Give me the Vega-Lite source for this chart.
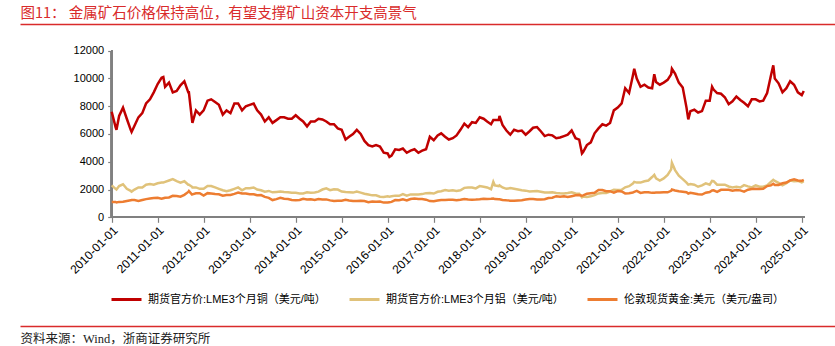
{
  "$schema": "https://vega.github.io/schema/vega-lite/v6.json",
  "autosize": {"type": "none"},
  "width": 815,
  "height": 302,
  "padding": {"left": 20, "top": 24, "right": 0, "bottom": 20},
  "background": "white",
  "config": {"view": {"stroke": null}, "axis": {"grid": false}},
  "data": {"values": [
    {"date":"2010-01-01","copper":7600,"aluminum":2300,"gold":1100},
    {"date":"2010-02-01","copper":6500,"aluminum":2050,"gold":1100},
    {"date":"2010-02-08","copper":6300,"aluminum":2000,"gold":1065},
    {"date":"2010-03-01","copper":7300,"aluminum":2250,"gold":1110},
    {"date":"2010-04-01","copper":7900,"aluminum":2380,"gold":1120},
    {"date":"2010-05-01","copper":7100,"aluminum":2050,"gold":1180},
    {"date":"2010-06-01","copper":6300,"aluminum":1900,"gold":1220},
    {"date":"2010-06-08","copper":6150,"aluminum":1850,"gold":1245},
    {"date":"2010-07-01","copper":6600,"aluminum":2000,"gold":1240},
    {"date":"2010-08-01","copper":7200,"aluminum":2150,"gold":1180},
    {"date":"2010-09-01","copper":7500,"aluminum":2150,"gold":1250},
    {"date":"2010-10-01","copper":8200,"aluminum":2350,"gold":1310},
    {"date":"2010-11-01","copper":8500,"aluminum":2400,"gold":1350},
    {"date":"2010-12-01","copper":9000,"aluminum":2350,"gold":1390},
    {"date":"2011-01-01","copper":9600,"aluminum":2450,"gold":1410},
    {"date":"2011-02-01","copper":10050,"aluminum":2500,"gold":1340},
    {"date":"2011-02-15","copper":10100,"aluminum":2500,"gold":1375},
    {"date":"2011-03-01","copper":9400,"aluminum":2550,"gold":1410},
    {"date":"2011-04-01","copper":9700,"aluminum":2650,"gold":1430},
    {"date":"2011-05-01","copper":9000,"aluminum":2750,"gold":1550},
    {"date":"2011-06-01","copper":9100,"aluminum":2600,"gold":1540},
    {"date":"2011-07-01","copper":9500,"aluminum":2500,"gold":1490},
    {"date":"2011-08-01","copper":9800,"aluminum":2600,"gold":1620},
    {"date":"2011-09-01","copper":9000,"aluminum":2350,"gold":1830},
    {"date":"2011-09-06","copper":9000,"aluminum":2350,"gold":1890},
    {"date":"2011-10-01","copper":7000,"aluminum":2200,"gold":1640},
    {"date":"2011-10-04","copper":6800,"aluminum":2150,"gold":1650},
    {"date":"2011-11-01","copper":7700,"aluminum":2150,"gold":1730},
    {"date":"2011-12-01","copper":7400,"aluminum":2050,"gold":1740},
    {"date":"2012-01-01","copper":7700,"aluminum":2050,"gold":1570},
    {"date":"2012-02-01","copper":8400,"aluminum":2250,"gold":1740},
    {"date":"2012-03-01","copper":8500,"aluminum":2250,"gold":1710},
    {"date":"2012-04-01","copper":8300,"aluminum":2150,"gold":1670},
    {"date":"2012-05-01","copper":8100,"aluminum":2050,"gold":1660},
    {"date":"2012-06-01","copper":7400,"aluminum":1950,"gold":1560},
    {"date":"2012-07-01","copper":7700,"aluminum":1880,"gold":1600},
    {"date":"2012-08-01","copper":7500,"aluminum":1950,"gold":1610},
    {"date":"2012-09-01","copper":8200,"aluminum":2050,"gold":1690},
    {"date":"2012-10-01","copper":8200,"aluminum":2150,"gold":1780},
    {"date":"2012-11-01","copper":7700,"aluminum":1950,"gold":1710},
    {"date":"2012-12-01","copper":8000,"aluminum":2100,"gold":1720},
    {"date":"2013-01-01","copper":8100,"aluminum":2100,"gold":1660},
    {"date":"2013-02-01","copper":8200,"aluminum":2150,"gold":1660},
    {"date":"2013-03-01","copper":7700,"aluminum":2000,"gold":1590},
    {"date":"2013-04-01","copper":7400,"aluminum":1950,"gold":1600},
    {"date":"2013-05-01","copper":6900,"aluminum":1850,"gold":1470},
    {"date":"2013-06-01","copper":7200,"aluminum":1900,"gold":1400},
    {"date":"2013-07-01","copper":6800,"aluminum":1800,"gold":1240},
    {"date":"2013-08-01","copper":7000,"aluminum":1830,"gold":1310},
    {"date":"2013-09-01","copper":7200,"aluminum":1850,"gold":1400},
    {"date":"2013-10-01","copper":7200,"aluminum":1820,"gold":1330},
    {"date":"2013-11-01","copper":7100,"aluminum":1800,"gold":1320},
    {"date":"2013-12-01","copper":7100,"aluminum":1760,"gold":1250},
    {"date":"2014-01-01","copper":7350,"aluminum":1760,"gold":1220},
    {"date":"2014-02-01","copper":7100,"aluminum":1720,"gold":1250},
    {"date":"2014-03-01","copper":6900,"aluminum":1720,"gold":1330},
    {"date":"2014-04-01","copper":6550,"aluminum":1800,"gold":1290},
    {"date":"2014-05-01","copper":6900,"aluminum":1760,"gold":1300},
    {"date":"2014-06-01","copper":6900,"aluminum":1780,"gold":1250},
    {"date":"2014-07-01","copper":7100,"aluminum":1850,"gold":1320},
    {"date":"2014-08-01","copper":7050,"aluminum":2000,"gold":1290},
    {"date":"2014-09-01","copper":6900,"aluminum":2080,"gold":1290},
    {"date":"2014-10-01","copper":6700,"aluminum":1950,"gold":1220},
    {"date":"2014-11-01","copper":6700,"aluminum":2020,"gold":1170},
    {"date":"2014-12-01","copper":6400,"aluminum":2000,"gold":1200},
    {"date":"2015-01-01","copper":6300,"aluminum":1850,"gold":1190},
    {"date":"2015-02-01","copper":5600,"aluminum":1820,"gold":1260},
    {"date":"2015-03-01","copper":5800,"aluminum":1800,"gold":1210},
    {"date":"2015-04-01","copper":6000,"aluminum":1780,"gold":1180},
    {"date":"2015-05-01","copper":6300,"aluminum":1860,"gold":1180},
    {"date":"2015-06-01","copper":6000,"aluminum":1780,"gold":1190},
    {"date":"2015-07-01","copper":5500,"aluminum":1700,"gold":1170},
    {"date":"2015-08-01","copper":5200,"aluminum":1640,"gold":1090},
    {"date":"2015-09-01","copper":5100,"aluminum":1580,"gold":1130},
    {"date":"2015-10-01","copper":5200,"aluminum":1590,"gold":1120},
    {"date":"2015-11-01","copper":5100,"aluminum":1480,"gold":1140},
    {"date":"2015-12-01","copper":4650,"aluminum":1470,"gold":1060},
    {"date":"2016-01-01","copper":4600,"aluminum":1510,"gold":1060},
    {"date":"2016-01-15","copper":4350,"aluminum":1480,"gold":1090},
    {"date":"2016-02-01","copper":4450,"aluminum":1510,"gold":1110},
    {"date":"2016-03-01","copper":4900,"aluminum":1560,"gold":1240},
    {"date":"2016-04-01","copper":4850,"aluminum":1550,"gold":1230},
    {"date":"2016-05-01","copper":4950,"aluminum":1670,"gold":1290},
    {"date":"2016-06-01","copper":4650,"aluminum":1560,"gold":1210},
    {"date":"2016-07-01","copper":4800,"aluminum":1650,"gold":1320},
    {"date":"2016-08-01","copper":4900,"aluminum":1640,"gold":1350},
    {"date":"2016-09-01","copper":4650,"aluminum":1650,"gold":1310},
    {"date":"2016-10-01","copper":4800,"aluminum":1670,"gold":1320},
    {"date":"2016-11-01","copper":4900,"aluminum":1740,"gold":1270},
    {"date":"2016-12-01","copper":5800,"aluminum":1750,"gold":1170},
    {"date":"2017-01-01","copper":5550,"aluminum":1710,"gold":1150},
    {"date":"2017-02-01","copper":5900,"aluminum":1840,"gold":1210},
    {"date":"2017-03-01","copper":6050,"aluminum":1880,"gold":1250},
    {"date":"2017-04-01","copper":5800,"aluminum":1960,"gold":1250},
    {"date":"2017-05-01","copper":5600,"aluminum":1910,"gold":1260},
    {"date":"2017-06-01","copper":5700,"aluminum":1950,"gold":1270},
    {"date":"2017-07-01","copper":5900,"aluminum":1900,"gold":1230},
    {"date":"2017-08-01","copper":6300,"aluminum":1950,"gold":1270},
    {"date":"2017-09-01","copper":6750,"aluminum":2120,"gold":1320},
    {"date":"2017-10-01","copper":6500,"aluminum":2150,"gold":1280},
    {"date":"2017-11-01","copper":6850,"aluminum":2150,"gold":1270},
    {"date":"2017-12-01","copper":6800,"aluminum":2080,"gold":1280},
    {"date":"2018-01-01","copper":7200,"aluminum":2250,"gold":1300},
    {"date":"2018-02-01","copper":7100,"aluminum":2200,"gold":1340},
    {"date":"2018-03-01","copper":6900,"aluminum":2150,"gold":1320},
    {"date":"2018-04-01","copper":6700,"aluminum":2020,"gold":1330},
    {"date":"2018-04-19","copper":7000,"aluminum":2550,"gold":1345},
    {"date":"2018-05-01","copper":7000,"aluminum":2300,"gold":1310},
    {"date":"2018-06-01","copper":7000,"aluminum":2250,"gold":1300},
    {"date":"2018-06-07","copper":7300,"aluminum":2300,"gold":1300},
    {"date":"2018-07-01","copper":6650,"aluminum":2150,"gold":1250},
    {"date":"2018-08-01","copper":6250,"aluminum":2050,"gold":1220},
    {"date":"2018-09-01","copper":5950,"aluminum":2100,"gold":1200},
    {"date":"2018-10-01","copper":6300,"aluminum":2050,"gold":1190},
    {"date":"2018-11-01","copper":6200,"aluminum":2000,"gold":1210},
    {"date":"2018-12-01","copper":6250,"aluminum":1950,"gold":1230},
    {"date":"2019-01-01","copper":5950,"aluminum":1920,"gold":1280},
    {"date":"2019-02-01","copper":6200,"aluminum":1860,"gold":1320},
    {"date":"2019-03-01","copper":6450,"aluminum":1880,"gold":1310},
    {"date":"2019-04-01","copper":6500,"aluminum":1900,"gold":1290},
    {"date":"2019-05-01","copper":6200,"aluminum":1840,"gold":1280},
    {"date":"2019-06-01","copper":5850,"aluminum":1780,"gold":1300},
    {"date":"2019-07-01","copper":5950,"aluminum":1780,"gold":1390},
    {"date":"2019-08-01","copper":5900,"aluminum":1800,"gold":1410},
    {"date":"2019-09-01","copper":5700,"aluminum":1750,"gold":1520},
    {"date":"2019-10-01","copper":5750,"aluminum":1730,"gold":1480},
    {"date":"2019-11-01","copper":5850,"aluminum":1720,"gold":1510},
    {"date":"2019-12-01","copper":5950,"aluminum":1750,"gold":1460},
    {"date":"2020-01-01","copper":6250,"aluminum":1800,"gold":1520},
    {"date":"2020-02-01","copper":5700,"aluminum":1720,"gold":1580},
    {"date":"2020-03-01","copper":5600,"aluminum":1700,"gold":1610},
    {"date":"2020-03-23","copper":4600,"aluminum":1440,"gold":1560},
    {"date":"2020-04-01","copper":4700,"aluminum":1500,"gold":1580},
    {"date":"2020-05-01","copper":5200,"aluminum":1470,"gold":1690},
    {"date":"2020-06-01","copper":5400,"aluminum":1510,"gold":1730},
    {"date":"2020-07-01","copper":6050,"aluminum":1600,"gold":1770},
    {"date":"2020-08-01","copper":6400,"aluminum":1720,"gold":1970},
    {"date":"2020-09-01","copper":6700,"aluminum":1750,"gold":1960},
    {"date":"2020-10-01","copper":6600,"aluminum":1750,"gold":1880},
    {"date":"2020-11-01","copper":6800,"aluminum":1860,"gold":1880},
    {"date":"2020-12-01","copper":7700,"aluminum":1980,"gold":1780},
    {"date":"2021-01-01","copper":7900,"aluminum":1970,"gold":1890},
    {"date":"2021-02-01","copper":8200,"aluminum":1980,"gold":1860},
    {"date":"2021-03-01","copper":9300,"aluminum":2160,"gold":1720},
    {"date":"2021-04-01","copper":8950,"aluminum":2240,"gold":1730},
    {"date":"2021-05-01","copper":10200,"aluminum":2430,"gold":1790},
    {"date":"2021-05-12","copper":10700,"aluminum":2550,"gold":1830},
    {"date":"2021-06-01","copper":10000,"aluminum":2500,"gold":1900},
    {"date":"2021-07-01","copper":9400,"aluminum":2500,"gold":1760},
    {"date":"2021-08-01","copper":9550,"aluminum":2600,"gold":1810},
    {"date":"2021-09-01","copper":9350,"aluminum":2650,"gold":1810},
    {"date":"2021-10-01","copper":9300,"aluminum":2900,"gold":1760},
    {"date":"2021-10-18","copper":10300,"aluminum":3050,"gold":1770},
    {"date":"2021-11-01","copper":9750,"aluminum":2800,"gold":1780},
    {"date":"2021-12-01","copper":9550,"aluminum":2650,"gold":1780},
    {"date":"2022-01-01","copper":9700,"aluminum":2800,"gold":1810},
    {"date":"2022-02-01","copper":9900,"aluminum":3050,"gold":1800},
    {"date":"2022-03-01","copper":10300,"aluminum":3450,"gold":1910},
    {"date":"2022-03-07","copper":10700,"aluminum":3930,"gold":2000},
    {"date":"2022-04-01","copper":10350,"aluminum":3400,"gold":1930},
    {"date":"2022-05-01","copper":9700,"aluminum":3000,"gold":1870},
    {"date":"2022-06-01","copper":9350,"aluminum":2750,"gold":1840},
    {"date":"2022-07-01","copper":7900,"aluminum":2500,"gold":1800},
    {"date":"2022-07-15","copper":7050,"aluminum":2350,"gold":1710},
    {"date":"2022-08-01","copper":7650,"aluminum":2400,"gold":1760},
    {"date":"2022-09-01","copper":7750,"aluminum":2350,"gold":1710},
    {"date":"2022-10-01","copper":7550,"aluminum":2200,"gold":1660},
    {"date":"2022-11-01","copper":7650,"aluminum":2300,"gold":1640},
    {"date":"2022-12-01","copper":8400,"aluminum":2450,"gold":1770},
    {"date":"2023-01-01","copper":8400,"aluminum":2350,"gold":1820},
    {"date":"2023-01-20","copper":9400,"aluminum":2620,"gold":1930},
    {"date":"2023-02-01","copper":9200,"aluminum":2600,"gold":1940},
    {"date":"2023-03-01","copper":8950,"aluminum":2350,"gold":1830},
    {"date":"2023-04-01","copper":8900,"aluminum":2350,"gold":1980},
    {"date":"2023-05-01","copper":8650,"aluminum":2350,"gold":1980},
    {"date":"2023-06-01","copper":8150,"aluminum":2220,"gold":1980},
    {"date":"2023-07-01","copper":8350,"aluminum":2150,"gold":1910},
    {"date":"2023-08-01","copper":8700,"aluminum":2200,"gold":1960},
    {"date":"2023-09-01","copper":8450,"aluminum":2150,"gold":1940},
    {"date":"2023-10-01","copper":8250,"aluminum":2320,"gold":1850},
    {"date":"2023-11-01","copper":8000,"aluminum":2230,"gold":1990},
    {"date":"2023-12-01","copper":8500,"aluminum":2150,"gold":2040},
    {"date":"2024-01-01","copper":8500,"aluminum":2300,"gold":2060},
    {"date":"2024-02-01","copper":8350,"aluminum":2200,"gold":2040},
    {"date":"2024-03-01","copper":8400,"aluminum":2200,"gold":2050},
    {"date":"2024-04-01","copper":8950,"aluminum":2300,"gold":2250},
    {"date":"2024-05-01","copper":10200,"aluminum":2550,"gold":2300},
    {"date":"2024-05-20","copper":10950,"aluminum":2700,"gold":2420},
    {"date":"2024-06-01","copper":10000,"aluminum":2620,"gold":2330},
    {"date":"2024-07-01","copper":9650,"aluminum":2480,"gold":2330},
    {"date":"2024-08-01","copper":9000,"aluminum":2300,"gold":2450},
    {"date":"2024-09-01","copper":9300,"aluminum":2450,"gold":2500},
    {"date":"2024-10-01","copper":9800,"aluminum":2650,"gold":2660},
    {"date":"2024-11-01","copper":9550,"aluminum":2600,"gold":2740},
    {"date":"2024-12-01","copper":9000,"aluminum":2620,"gold":2650},
    {"date":"2025-01-01","copper":8800,"aluminum":2520,"gold":2630},
    {"date":"2025-01-17","copper":9100,"aluminum":2600,"gold":2700}
  ]},
  "resolve": {"axis": {"x": "independent", "y": "independent"}},
  "layer": [
    {
      "mark": {"type": "rule", "color": "#808080", "strokeWidth": 1.5},
      "encoding": {
        "x": {"datum": {"year": 2010, "month": 1, "date": 1}, "type": "temporal",
              "scale": {"domain": [{"year": 2008, "month": 1, "date": 4}, {"year": 2025, "month": 9, "date": 22}]},
              "axis": {"orient": "top", "domain": true, "domainColor": "#d92b2b", "domainWidth": 1.5, "ticks": false, "labels": false, "grid": false,
                       "title": "图11： 金属矿石价格保持高位，有望支撑矿山资本开支高景气",
                       "titleColor": "#d92b2b", "titleFont": "Noto Sans CJK SC", "titleFontSize": 14.5, "titleFontWeight": "normal",
                       "titleAnchor": "start", "titleAlign": "left", "titleBaseline": "bottom", "titlePadding": 4}},
        "x2": {"datum": {"year": 2025, "month": 1, "date": 20}},
        "y": {"datum": 0, "type": "quantitative", "scale": {"domain": [-7830, 13923]}, "axis": null}
      }
    },
    {
      "mark": {"type": "rule", "color": "#808080", "strokeWidth": 1.5},
      "encoding": {
        "x": {"datum": {"year": 2010, "month": 1, "date": 1}, "type": "temporal",
              "scale": {"domain": [{"year": 2008, "month": 1, "date": 4}, {"year": 2025, "month": 9, "date": 22}]},
              "axis": {"orient": "bottom", "offset": 0, "domain": true, "domainColor": "#d92b2b", "domainWidth": 1.5, "ticks": false, "labels": false, "grid": false,
                       "title": "资料来源：Wind，浙商证券研究所",
                       "titleColor": "#222222", "titleFont": "Liberation Serif, Noto Sans CJK SC", "titleFontSize": 12.5, "titleFontWeight": "normal",
                       "titleAnchor": "start", "titleAlign": "left", "titleBaseline": "top", "titlePadding": 6}},
        "y": {"datum": 0, "type": "quantitative", "scale": {"domain": [-7830, 13923]}, "axis": null},
        "y2": {"datum": 12000}
      }
    },
    {
      "transform": [{"fold": ["copper", "aluminum", "gold"], "as": ["series", "price"]}],
      "mark": {"type": "line", "strokeWidth": 2.5, "interpolate": "linear"},
      "encoding": {
        "x": {"field": "date", "type": "temporal",
              "scale": {"domain": [{"year": 2008, "month": 1, "date": 4}, {"year": 2025, "month": 9, "date": 22}]},
              "axis": {"orient": "bottom", "offset": -108.7, "domain": false, "grid": false, "title": null, "labelOverlap": false, "labelBound": false,
                       "values": [{"year":2010,"month":1,"date":1},{"year":2011,"month":1,"date":1},{"year":2012,"month":1,"date":1},{"year":2013,"month":1,"date":1},{"year":2014,"month":1,"date":1},{"year":2015,"month":1,"date":1},{"year":2016,"month":1,"date":1},{"year":2017,"month":1,"date":1},{"year":2018,"month":1,"date":1},{"year":2019,"month":1,"date":1},{"year":2020,"month":1,"date":1},{"year":2021,"month":1,"date":1},{"year":2022,"month":1,"date":1},{"year":2023,"month":1,"date":1},{"year":2024,"month":1,"date":1},{"year":2025,"month":1,"date":1}],
                       "format": "%Y-%m-%d", "labelAngle": -45, "labelFont": "Liberation Sans", "labelFontSize": 12, "labelColor": "#000000",
                       "tickColor": "#808080", "tickSize": 5, "tickWidth": 1.2, "labelPadding": 2}},
        "y": {"field": "price", "type": "quantitative",
              "scale": {"domain": [-7830, 13923]},
              "axis": {"orient": "left", "offset": -91.7, "domain": false, "grid": false, "title": null,
                       "values": [0, 2000, 4000, 6000, 8000, 10000, 12000], "format": "d",
                       "labelFont": "Liberation Sans", "labelFontSize": 11, "labelColor": "#000000",
                       "tickColor": "#808080", "tickSize": 4, "tickWidth": 1.2, "labelPadding": 4}},
        "color": {"field": "series", "type": "nominal",
                  "scale": {"domain": ["copper", "aluminum", "gold"], "range": ["#c00000", "#e0c27a", "#ed7d31"]},
                  "legend": {"orient": "none", "legendX": 90, "legendY": 259, "direction": "horizontal", "title": null,
                             "symbolType": "stroke", "symbolSize": 900, "symbolStrokeWidth": 3, "labelOffset": 5,
                             "columnPadding": 17, "padding": 0, "gridAlign": "none",
                             "labelFont": "Liberation Sans, Noto Sans CJK SC", "labelFontSize": 11, "labelColor": "#000000", "labelLimit": 400,
                             "labelExpr": "datum.value == 'copper' ? '期货官方价:LME3个月铜（美元/吨）' : datum.value == 'aluminum' ? '期货官方价:LME3个月铝（美元/吨）' : '伦敦现货黄金:美元（美元/盎司）'"}}
      }
    }
  ]
}
